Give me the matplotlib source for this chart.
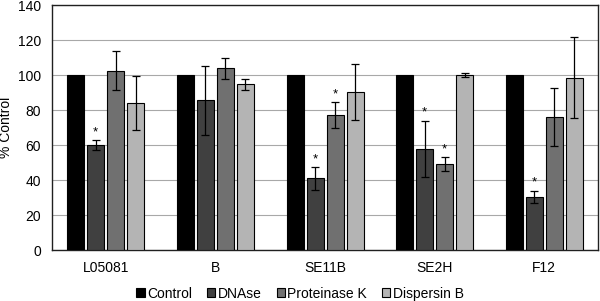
import numpy as np
import matplotlib
matplotlib.use('Agg')
import matplotlib.pyplot as plt

plt.rcParams['font.family'] = ['Liberation Sans', 'DejaVu Sans']

strains = ["L05081", "B", "SE11B", "SE2H", "F12"]
treatments = ["Control", "DNAse", "Proteinase K", "Dispersin B"]

control = [100, 100, 100, 100, 100]
dnase = [60, 85.5, 41, 58, 30.5]
protk = [102.5, 104, 77, 49, 76]
dispb = [84, 94.7, 90.5, 100, 98.5]

dnase_err = [3, 19.5, 6.5, 16, 3.5]
protk_err = [11, 6, 7.5, 4, 16.5]
dispb_err = [15.5, 3, 16, 1, 23]

# significance stars (True = *)
dnase_sig = [True, False, True, True, True]
protk_sig = [False, False, True, True, False]

colors = ["#000000", "#404040", "#707070", "#b4b4b4"]

fig = plt.figure(figsize=(6, 3.01), dpi=100)
ax = fig.add_axes([0.0867, 0.169, 0.91, 0.814])

x = np.arange(len(strains))
w = 0.155
step = 0.1825
offsets = [-1.5 * step, -0.5 * step, 0.5 * step, 1.5 * step]

series = [control, dnase, protk, dispb]
errs = [None, dnase_err, protk_err, dispb_err]
sigs = [None, dnase_sig, protk_sig, None]

for i in range(4):
    ax.bar(x + offsets[i], series[i], w, color=colors[i],
           edgecolor="black", linewidth=0.8, label=treatments[i], zorder=3)
    if errs[i] is not None:
        ax.errorbar(x + offsets[i], series[i], yerr=errs[i], fmt="none",
                    ecolor="black", elinewidth=0.9, capsize=3, capthick=0.9, zorder=4)
    if sigs[i] is not None:
        for j in range(len(strains)):
            if sigs[i][j]:
                ax.text(x[j] + offsets[i], series[i][j] + errs[i][j] + 1, "*",
                        ha="center", va="bottom", fontsize=9.5, zorder=5)

ax.set_xlim(-0.49, len(strains) - 0.51)
ax.set_ylim(0, 140)
ax.set_yticks(range(0, 141, 20))
ax.set_xticks(x)
ax.set_xticklabels(strains)
ax.tick_params(axis="both", length=0, labelsize=10, pad=8)
ax.yaxis.grid(True, color="#a8a8a8", linewidth=0.8, zorder=0)
ax.set_axisbelow(True)
for s in ax.spines.values():
    s.set_color("#202020")
    s.set_linewidth(1.0)
ax.set_ylabel("% Control", fontsize=10)
ax.yaxis.set_label_coords(-0.072, 0.5)

fig.legend(loc="lower center", ncol=4, frameon=False, fontsize=10,
           handlelength=0.6, handleheight=0.6, handletextpad=0.15,
           columnspacing=1.1, bbox_to_anchor=(0.5, -0.04))

fig.savefig("out.png", dpi=100)
